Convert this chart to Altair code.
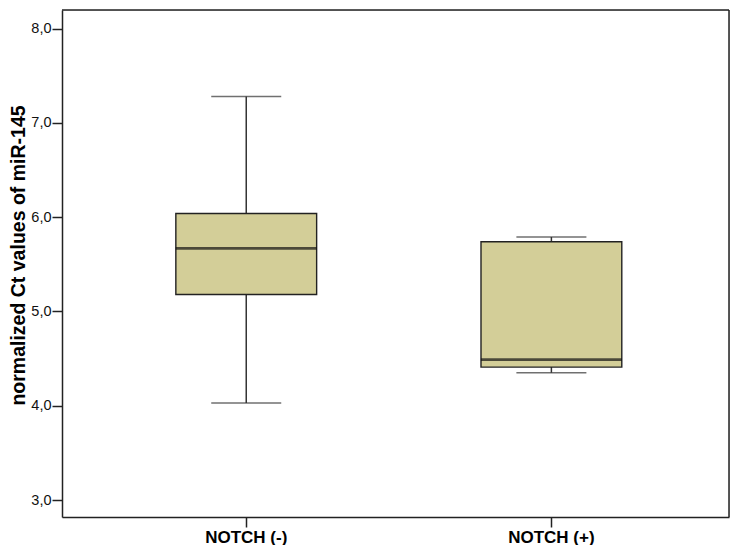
import altair as alt
import pandas as pd

groups = ["NOTCH (-)", "NOTCH (+)"]
lower = [4.03, 4.35]
q1 = [5.18, 4.41]
median = [5.67, 4.49]
q3 = [6.04, 5.74]
upper = [7.28, 5.79]
y_ticks = [3, 4, 5, 6, 7, 8]

df = pd.DataFrame({"group": groups, "lower": lower, "q1": q1, "median": median,
                   "q3": q3, "upper": upper})

FONT = "Liberation Sans"
ydom = [2.82, 8.198]
W, H = 667, 507

x = alt.X("group:N", sort=groups, title=None,
          scale=alt.Scale(paddingInner=0.5386, paddingOuter=0.3622, align=0.515),
          axis=alt.Axis(labelFont=FONT, labelFontSize=17, labelFontWeight="bold",
                        labelColor="black", labelAngle=0, tickSize=10, labelPadding=2,
                        tickColor="#222", tickWidth=1.5, domainColor="#222", domainWidth=1.5))
yscale = alt.Scale(domain=ydom, nice=False, zero=False)
yaxis = alt.Axis(values=y_ticks, labelExpr="replace(format(datum.value, '.1f'), '.', ',')",
                 labelFont=FONT, labelFontSize=14.5, labelColor="#111", tickSize=10,
                 labelPadding=1, tickColor="#222", tickWidth=1.5, domainColor="#222",
                 domainWidth=1.5, grid=False, title="normalized Ct values of miR-145",
                 titleFont=FONT, titleFontSize=19.5, titleFontWeight="bold",
                 titleColor="black", titlePadding=2, titleY=245)

base = alt.Chart(df)

whisker = base.mark_rule(color="#333", strokeWidth=1.5).encode(
    x=x, y=alt.Y("lower:Q", scale=yscale, axis=yaxis), y2="upper:Q")
box = base.mark_bar(color="#D3CE98", stroke="#222", strokeWidth=1.4).encode(
    x=x, y=alt.Y("q1:Q", scale=yscale), y2="q3:Q")
med = base.mark_tick(color="#111", size=141, thickness=2.8).encode(
    x=x, y=alt.Y("median:Q", scale=yscale))
cap_lo = base.mark_tick(color="#333", size=70, thickness=1.5).encode(
    x=x, y=alt.Y("lower:Q", scale=yscale))
cap_hi = base.mark_tick(color="#333", size=70, thickness=1.5).encode(
    x=x, y=alt.Y("upper:Q", scale=yscale))

frame_top = alt.Chart().mark_rule(color="#222", strokeWidth=1.5).encode(
    x=alt.value(0), x2=alt.value(W), y=alt.value(0))
frame_right = alt.Chart().mark_rule(color="#222", strokeWidth=1.5).encode(
    x=alt.value(W), y=alt.value(0), y2=alt.value(H))

chart = alt.layer(whisker, box, med, cap_lo, cap_hi, frame_top, frame_right).properties(
    width=W, height=H, padding={"left": 0, "top": 1, "right": 1, "bottom": 0}
).configure_view(stroke="#222", strokeWidth=1.5).configure(background="white")

chart.save("out.html", embed_options={"renderer": "svg", "actions": False})
